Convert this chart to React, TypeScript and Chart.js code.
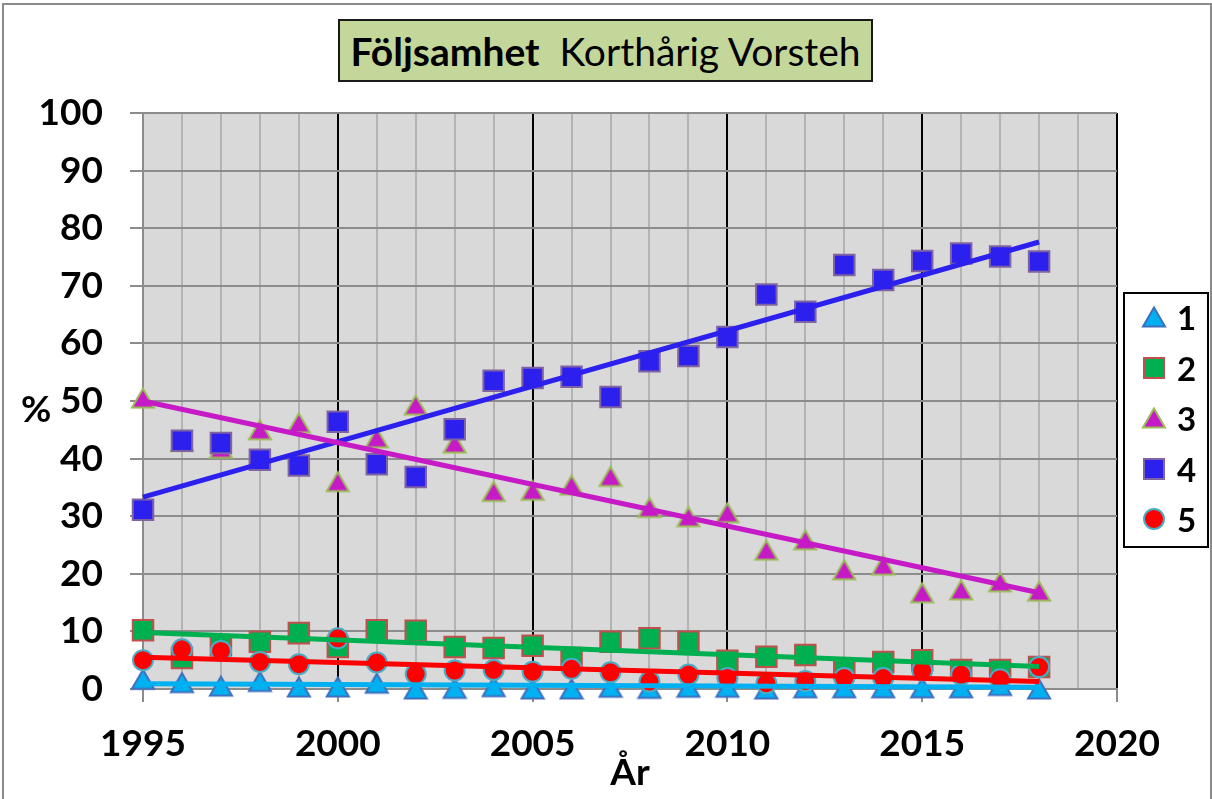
import React, { useEffect, useRef } from "react";
import { Chart, registerables } from "chart.js";

Chart.register(...registerables);

const years = [1995, 1996, 1997, 1998, 1999, 2000, 2001, 2002, 2003, 2004, 2005, 2006, 2007, 2008, 2009, 2010, 2011, 2012, 2013, 2014, 2015, 2016, 2017, 2018];
const serie1 = [1.7, 1.1, 0.5, 1.3, 0.35, 0.35, 1.0, 0.0, 0.1, 0.4, 0.0, 0.0, 0.3, 0.1, 0.3, 0.3, 0.0, 0.2, 0.2, 0.2, 0.2, 0.2, 0.6, 0.0];
const serie2 = [10.2, 5.4, 7.6, 8.2, 9.7, 7.3, 10.2, 10.1, 7.3, 7.1, 7.5, 5.4, 8.2, 8.8, 8.2, 4.9, 5.6, 5.9, 3.6, 4.7, 5.0, 3.3, 3.3, 3.8];
const serie3 = [50.5, 43.0, 41.8, 45.0, 46.2, 36.0, 43.6, 49.3, 42.7, 34.3, 34.5, 35.4, 36.9, 31.5, 29.9, 30.6, 24.1, 25.9, 20.7, 21.5, 16.7, 17.2, 18.6, 17.0];
const serie4 = [31.1, 43.1, 42.7, 39.8, 38.8, 46.4, 39.0, 36.8, 45.1, 53.5, 54.0, 54.2, 50.7, 56.9, 57.8, 61.1, 68.5, 65.5, 73.6, 71.0, 74.3, 75.6, 75.1, 74.2];
const serie5 = [5.0, 6.9, 6.6, 4.7, 4.3, 8.8, 4.6, 2.6, 3.2, 3.3, 3.0, 3.5, 2.9, 1.3, 2.5, 1.9, 1.0, 1.4, 1.9, 1.9, 3.2, 2.5, 1.7, 3.8];

const trendYears = [1995, 2018];
const trend1 = [0.9, 0.3];
const trend2 = [9.8, 3.9];
const trend3 = [50.0, 16.7];
const trend4 = [33.3, 77.6];
const trend5 = [5.5, 1.3];

const seriesLabels = ["1", "2", "3", "4", "5"];
const xTickLabels = ["1995", "2000", "2005", "2010", "2015", "2020"];
const yTickLabels = ["0", "10", "20", "30", "40", "50", "60", "70", "80", "90", "100"];

const COL1 = "#00B0F0", BOR1 = "#3F6FBF";
const COL2 = "#00B050", BOR2 = "#C0504D";
const COL3 = "#C71AC7", BOR3 = "#9BBB59";
const COL4 = "#2B20EE", BOR4 = "#8064A2";
const COL5 = "#FF0000", BOR5 = "#4BACC6";

const FONT = "Lato, 'Open Sans', sans-serif";

function pts(xs: number[], ys: number[]) {
  return xs.map((x, i) => ({ x, y: ys[i] }));
}

function makeTriangle(fill: string, stroke: string) {
  const c = document.createElement("canvas");
  c.width = 26;
  c.height = 24;
  const g = c.getContext("2d")!;
  g.beginPath();
  g.moveTo(13, 2.5);
  g.lineTo(24, 21.5);
  g.lineTo(2, 21.5);
  g.closePath();
  g.fillStyle = fill;
  g.fill();
  g.lineWidth = 2;
  g.strokeStyle = stroke;
  g.lineJoin = "miter";
  g.stroke();
  return c;
}

const bgPlugin = {
  id: "plotBg",
  beforeDraw(chart: any) {
    const { ctx, chartArea } = chart;
    ctx.save();
    ctx.fillStyle = "#D9D9D9";
    ctx.fillRect(chartArea.left, chartArea.top, chartArea.right - chartArea.left, chartArea.bottom - chartArea.top);
    ctx.restore();
  },
};

function LegendMarker({ kind, fill, stroke }: { kind: string; fill: string; stroke: string }) {
  if (kind === "tri") {
    return (
      <svg width="26" height="24" style={{ display: "block" }}>
        <polygon points="13,2.5 24,21.5 2,21.5" fill={fill} stroke={stroke} strokeWidth="2" />
      </svg>
    );
  }
  if (kind === "rect") {
    return (
      <svg width="26" height="24" style={{ display: "block" }}>
        <rect x="3" y="2" width="20" height="20" fill={fill} stroke={stroke} strokeWidth="2" />
      </svg>
    );
  }
  return (
    <svg width="26" height="24" style={{ display: "block" }}>
      <circle cx="13" cy="12" r="10" fill={fill} stroke={stroke} strokeWidth="2" />
    </svg>
  );
}

const legendItems = [
  { kind: "tri", fill: COL1, stroke: BOR1 },
  { kind: "rect", fill: COL2, stroke: BOR2 },
  { kind: "tri", fill: COL3, stroke: BOR3 },
  { kind: "rect", fill: COL4, stroke: BOR4 },
  { kind: "circle", fill: COL5, stroke: BOR5 },
];
const legendRowY = [317, 368, 418, 469, 519];

export default function App() {
  const canvasRef = useRef<HTMLCanvasElement | null>(null);

  useEffect(() => {
    const canvas = canvasRef.current;
    if (!canvas) return;
    const tri1 = makeTriangle(COL1, BOR1);
    const tri3 = makeTriangle(COL3, BOR3);

    const trendDs = (label: string, ys: number[], color: string, order: number) => ({
      label,
      data: pts(trendYears, ys),
      showLine: true,
      borderColor: color,
      backgroundColor: color,
      borderWidth: 5,
      pointRadius: 0,
      order,
      clip: false as any,
    });

    const chart = new Chart(canvas, {
      type: "scatter",
      data: {
        datasets: [
          trendDs("trend 1", trend1, COL1, 0),
          trendDs("trend 2", trend2, COL2, 1),
          trendDs("trend 3", trend3, COL3, 2),
          trendDs("trend 4", trend4, COL4, 3),
          trendDs("trend 5", trend5, COL5, 4),
          {
            label: seriesLabels[4],
            data: pts(years, serie5),
            pointStyle: "circle",
            pointRadius: 10,
            backgroundColor: COL5,
            borderColor: BOR5,
            borderWidth: 2,
            order: 5,
            clip: false as any,
          },
          {
            label: seriesLabels[3],
            data: pts(years, serie4),
            pointStyle: "rect",
            pointRadius: 14.5,
            backgroundColor: COL4,
            borderColor: BOR4,
            borderWidth: 2,
            order: 6,
            clip: false as any,
          },
          {
            label: seriesLabels[2],
            data: pts(years, serie3),
            pointStyle: tri3 as any,
            pointRadius: 11,
            backgroundColor: COL3,
            borderColor: BOR3,
            order: 7,
            clip: false as any,
          },
          {
            label: seriesLabels[1],
            data: pts(years, serie2),
            pointStyle: "rect",
            pointRadius: 14.5,
            backgroundColor: COL2,
            borderColor: BOR2,
            borderWidth: 2,
            order: 8,
            clip: false as any,
          },
          {
            label: seriesLabels[0],
            data: pts(years, serie1),
            pointStyle: tri1 as any,
            pointRadius: 11,
            backgroundColor: COL1,
            borderColor: BOR1,
            order: 9,
            clip: false as any,
          },
        ],
      },
      options: {
        animation: false,
        responsive: false,
        devicePixelRatio: 1,
        events: [],
        layout: { padding: { left: 0, top: 113, right: 95, bottom: 0 } },
        plugins: {
          legend: { display: false },
          title: { display: false },
          tooltip: { enabled: false },
        },
        scales: {
          x: {
            type: "linear",
            min: 1995,
            max: 2020,
            afterFit(scale: any) {
              scale.height = 110;
            },
            ticks: {
              stepSize: 1,
              autoSkip: false,
              maxRotation: 0,
              padding: 20,
              color: "#000",
              font: { family: FONT, size: 37, weight: "bold" },
              callback: (v: any) => {
                const s = String(v);
                return xTickLabels.includes(s) ? s : "";
              },
            },
            grid: {
              color: (ctx: any) => {
                const v = ctx.tick ? ctx.tick.value : 0;
                return v % 5 === 0 && v !== 1995 ? "#000000" : "#B3B3B3";
              },
              tickColor: (ctx: any) => {
                const v = ctx.tick ? ctx.tick.value : 0;
                return v % 5 === 0 ? "#8C8C8C" : "rgba(0,0,0,0)";
              },
              lineWidth: 2,
              tickLength: 13,
              tickWidth: 2,
            },
            border: { display: true, color: "#8C8C8C", width: 2 },
            title: {
              display: true,
              text: "År",
              color: "#000",
              font: { family: FONT, size: 37, weight: "bold" },
              padding: { top: 0, bottom: 4 },
            },
          },
          y: {
            type: "linear",
            min: 0,
            max: 100,
            afterFit(scale: any) {
              scale.width = 143;
            },
            ticks: {
              stepSize: 10,
              padding: 27,
              color: "#000",
              font: { family: FONT, size: 37, weight: "bold" },
              callback: (v: any) => {
                const s = String(v);
                return yTickLabels.includes(s) ? s : "";
              },
            },
            grid: {
              color: "#8C8C8C",
              lineWidth: 2,
              tickLength: 13,
              tickColor: "#8C8C8C",
            },
            border: { display: true, color: "#8C8C8C", width: 2 },
          },
        },
      },
      plugins: [bgPlugin],
    });

    return () => {
      chart.destroy();
    };
  }, []);

  return (
    <div style={{ position: "absolute", left: 0, top: 0, width: 1212, height: 799, background: "#fff", overflow: "hidden" }}>
      <canvas ref={canvasRef} width={1212} height={799} style={{ position: "absolute", left: 0, top: 0 }} />
      <div
        style={{
          position: "absolute",
          left: 2,
          top: 3,
          width: 1206,
          height: 810,
          border: "2px solid #8A8A8A",
          pointerEvents: "none",
        }}
      />
      <div
        style={{
          position: "absolute",
          left: 338,
          top: 19,
          width: 535,
          height: 63,
          boxSizing: "border-box",
          background: "#C4D79B",
          border: "2px solid #1A1A1A",
          display: "flex",
          alignItems: "center",
          justifyContent: "center",
          fontFamily: FONT,
          fontSize: 39,
          color: "#000",
          whiteSpace: "pre",
        }}
      >
        <span style={{ fontWeight: "bold" }}>Följsamhet</span>
        <span>{"  Korthårig Vorsteh"}</span>
      </div>
      <div
        style={{
          position: "absolute",
          left: 21,
          top: 407,
          transform: "translateY(-50%)",
          fontFamily: FONT,
          fontSize: 37,
          fontWeight: "bold",
          color: "#000",
          lineHeight: 1,
        }}
      >
        %
      </div>
      <div
        style={{
          position: "absolute",
          left: 1123,
          top: 292,
          width: 86,
          height: 256,
          boxSizing: "border-box",
          background: "#fff",
          border: "2px solid #000",
        }}
      />
      {legendItems.map((it, i) => (
        <React.Fragment key={i}>
          <div style={{ position: "absolute", left: 1141, top: legendRowY[i] - 12 }}>
            <LegendMarker kind={it.kind} fill={it.fill} stroke={it.stroke} />
          </div>
          <div
            style={{
              position: "absolute",
              left: 1177,
              top: legendRowY[i],
              transform: "translateY(-50%)",
              fontFamily: FONT,
              fontSize: 33,
              fontWeight: "bold",
              color: "#000",
              lineHeight: 1,
            }}
          >
            {seriesLabels[i]}
          </div>
        </React.Fragment>
      ))}
    </div>
  );
}
